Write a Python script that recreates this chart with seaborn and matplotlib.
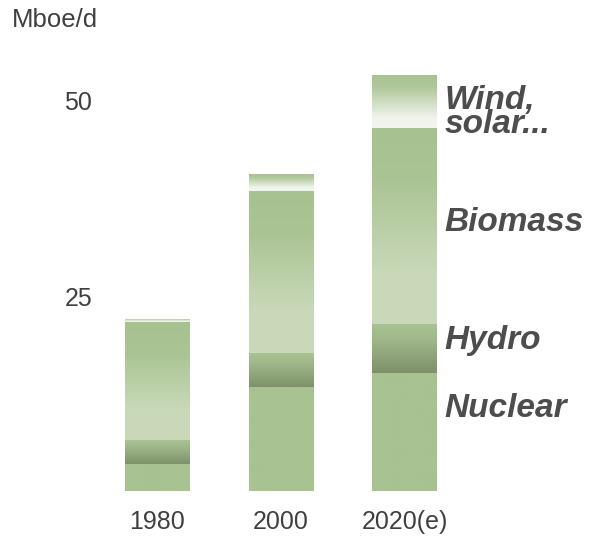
import numpy as np
import pandas as pd
import matplotlib
matplotlib.use("Agg")
import matplotlib.pyplot as plt
from matplotlib.colors import LinearSegmentedColormap
import seaborn as sns

# Renewable supply by source, Mboe/d
years = ["1980", "2000", "2020(e)"]
nuclear = [3.5, 13.3, 15.1]
hydro = [3.1, 4.4, 6.3]
biomass = [15.1, 20.8, 25.1]
wind_solar = [0.4, 2.2, 6.8]

layer_names = ["Nuclear", "Hydro", "Biomass", "Wind,\nsolar..."]
layer_values = [nuclear, hydro, biomass, wind_solar]

y_ticks = [25, 50]

sns.set_theme(style="white")
plt.rcParams["font.family"] = ["Liberation Sans", "DejaVu Sans"]

GREEN = "#a8c291"
# vertical colour ramps for each layer, listed from the top of the segment downward
ramps = {
    "Nuclear": [(0.0, GREEN), (1.0, GREEN)],
    "Hydro": [(0.0, "#a9c392"), (0.25, "#a2bb8c"), (1.0, "#7f916b")],
    "Biomass": [(0.0, "#a7c190"), (0.27, "#abc494"), (0.73, "#c8d8b8"), (1.0, "#cad9ba")],
    "Wind,\nsolar...": [(0.0, "#a8c291"), (0.25, "#b0c89b"), (0.8, "#eff3eb"), (1.0, "#f3f6f0")],
}

fig = plt.figure(figsize=(6.04, 5.37), dpi=100)
ax = fig.add_axes([100 / 604, 46 / 537, 504 / 604, 429 / 537])

bottoms = np.zeros(len(years))
bar_width = 0.52
# ramp value per image row: row 0 sits at the bottom of the segment (origin="lower")
grad = np.linspace(1, 0, 256).reshape(-1, 1)
for name, vals in zip(layer_names, layer_values):
    df = pd.DataFrame({"year": years, "value": vals})
    sns.barplot(data=df, x="year", y="value", order=years, ax=ax,
                width=bar_width, bottom=bottoms.copy(), color=GREEN,
                linewidth=0, errorbar=None, saturation=1)
    container = ax.containers[-1]
    cmap = LinearSegmentedColormap.from_list(name, ramps[name])
    for patch in container.patches:
        x0, y0 = patch.get_x(), patch.get_y()
        w, h = patch.get_width(), patch.get_height()
        patch.set_facecolor("none")
        patch.set_edgecolor("none")
        img = ax.imshow(grad, cmap=cmap, vmin=0, vmax=1, aspect="auto",
                        origin="lower", extent=[x0, x0 + w, y0, y0 + h],
                        interpolation="bilinear", zorder=2)
        img.set_clip_path(patch)
    bottoms += np.array(vals)

ax.set_xlim(-0.46, 3.61)
ax.set_ylim(0, 55)
ax.set_yticks(y_ticks)
ax.set_yticklabels([str(t) for t in y_ticks])
ax.set_xlabel("")
ax.set_ylabel("")
sns.despine(ax=ax, left=True, bottom=True)
ax.tick_params(axis="x", length=0, pad=13.5, labelsize=18, labelcolor="#404040")
ax.tick_params(axis="y", length=0, pad=5.5, labelsize=18, labelcolor="#404040")
ax.grid(False)

# source names beside the last bar
label_x = 2 + bar_width / 2 + 0.06
label_kw = dict(fontsize=24, fontweight="bold", fontstyle="italic",
                color="#4d4d4d", ha="left")
ax.text(label_x, 52.1, "Wind,\nsolar...", va="top", linespacing=0.72, **label_kw)
ax.text(label_x, 33.3, "Biomass", va="baseline", **label_kw)
ax.text(label_x, 18.2, "Hydro", va="baseline", **label_kw)
ax.text(label_x, 9.5, "Nuclear", va="baseline", **label_kw)

fig.text(12 / 604, 1 - 20 / 537, "Mboe/d", fontsize=18.5, color="#404040",
         ha="left", va="center")

fig.savefig("out.png", dpi=100)
